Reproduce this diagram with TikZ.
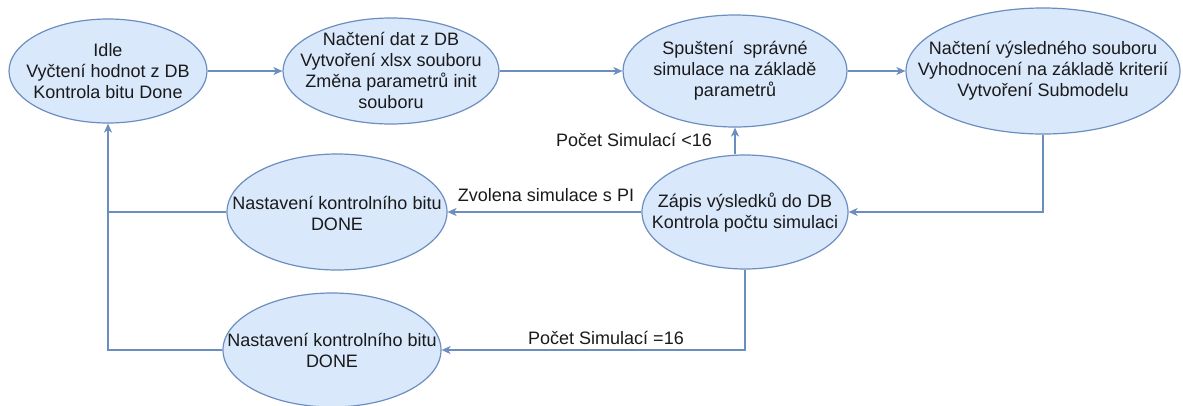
\documentclass[tikz,border=0pt]{standalone}
\usepackage{fontspec}
\setmainfont{Liberation Sans}
\usetikzlibrary{arrows.meta,shapes.geometric}
\definecolor{stateFill}{HTML}{DAE8FC}
\definecolor{stateLine}{HTML}{6C8EBF}
\definecolor{ink}{HTML}{1A1A1A}
\tikzset{
  state/.style={ellipse, draw=stateLine, fill=stateFill, line width=1.2pt, inner sep=0pt},
  txt/.style={align=center, text=ink, inner sep=0pt, font=\fontsize{18}{21}\selectfont},
  lbl/.style={text=ink, inner sep=0pt, font=\fontsize{18}{21}\selectfont},
  link/.style={draw=stateLine, line width=1.3pt},
  arr/.style={link, -{Stealth[length=9pt,width=8pt,inset=2.5pt]}}
}
\begin{document}
\begin{tikzpicture}[x=1pt,y=-1pt]
\useasboundingbox (0,0) rectangle (1183,405);
\clip (0,0) rectangle (1183,405);

% states
\node[state, minimum width=198, minimum height=104] (e1) at (108,71) {};
\node[txt] (t1) at (108,71) {Idle\\Vyčtení hodnot z DB\\Kontrola bitu Done};

\node[state, minimum width=216, minimum height=106] (e2) at (391,71) {};
\node[txt] (t2) at (391,70) {Načtení dat z DB\\Vytvoření xlsx souboru\\Změna parametrů init\\souboru};

\node[state, minimum width=224, minimum height=112] (e3) at (735,71) {};
\node[txt] (t3) at (735,71) {Spuštení\ \ správné\\simulace na základě\\parametrů};

\node[state, minimum width=274, minimum height=126] (e4) at (1043,71) {};
\node[txt] (t4) at (1043,71) {Načtení výsledného souboru\\Vyhodnocení na základě kriterií\\Vytvoření Submodelu};

\node[state, minimum width=206, minimum height=114] (e5) at (745,212) {};
\node[txt] (t5) at (745,212.5) {Zápis výsledků do DB\\Kontrola počtu simulaci};

\node[state, minimum width=220, minimum height=116] (e6) at (337,212) {};
\node[txt] (t6) at (337,213.5) {Nastavení kontrolního bitu\\DONE};

\node[state, minimum width=218, minimum height=114] (e7) at (332,350) {};
\node[txt] (t7) at (332,350) {Nastavení kontrolního bitu\\DONE};

% transitions
\draw[arr] (e1.east) -- (e2.west);
\draw[arr] (e2.east) -- (e3.west);
\draw[arr] (e3.east) -- (e4.west);
\draw[arr] (e4.south) |- (e5.east);
\draw[arr] (e3.south |- e5.north) -- (e3.south);
\draw[arr] (e5.west) -- (e6.east);
\draw[arr] (e5.south) |- (e7.east);
\draw[link] (e6.west) -- (e1.south |- e6.west);
\draw[arr] (e7.west) -| (e1.south);

% guard labels
\node[lbl, anchor=east] (g1) at (712,140) {Počet Simulací <16};
\node[lbl] (g2) at (546,195) {Zvolena simulace s PI};
\node[lbl] (g3) at (606,338) {Počet Simulací =16};
\end{tikzpicture}
\end{document}
